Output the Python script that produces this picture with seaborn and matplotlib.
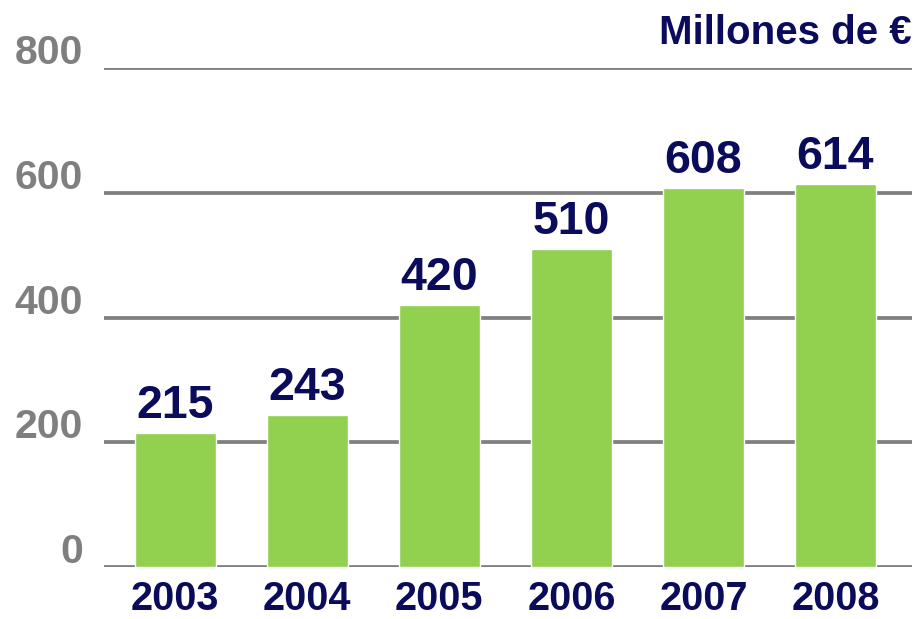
import matplotlib
matplotlib.use("Agg")
from matplotlib import pyplot as plt
from matplotlib.transforms import ScaledTranslation
import seaborn as sns
import pandas as pd

# data
years = ["2003", "2004", "2005", "2006", "2007", "2008"]
values = [215, 243, 420, 510, 608, 614]
y_ticks = [0, 200, 400, 600, 800]

green = "#92D050"
navy = "#0B0B5C"
grey = "#7F7F7F"

sns.set_theme(style="white")
plt.rcParams["font.family"] = ["Liberation Sans", "DejaVu Sans"]
plt.rcParams["font.weight"] = "bold"

df = pd.DataFrame({"year": years, "value": values})

fig = plt.figure(figsize=(9.18, 6.19), dpi=100)
ax = fig.add_axes([0.1133, 0.084, 0.8802, 0.806])

sns.barplot(data=df, x="year", y="value", color=green, width=0.61,
            saturation=1, ax=ax, zorder=3)

# value labels above bars
for i, v in enumerate(values):
  ax.annotate(str(v), (i, v), xytext=(0, 11), textcoords="offset points",
              ha="center", va="baseline", fontsize=33.5,
              fontweight="bold", color=navy)

ax.set_ylim(0, 800)
ax.set_xlim(-0.54, 5.58)
ax.set_yticks(y_ticks)
ax.set_yticklabels([str(t) for t in y_ticks], fontsize=29.5, fontweight="bold", color=grey)
ax.set_xticks(range(len(years)))
ax.set_xticklabels(years, fontsize=28.5, fontweight="bold", color=navy)
ax.tick_params(axis="y", length=0, pad=15)
ax.tick_params(axis="x", length=0, pad=9)
ax.set_xlabel("")
ax.set_ylabel("")

# y labels sit just above their gridline
shift = ScaledTranslation(0, 0.04, fig.dpi_scale_trans)
for lab in ax.get_yticklabels():
  lab.set_verticalalignment("baseline")
  lab.set_transform(lab.get_transform() + shift)

for t in y_ticks:
  ax.axhline(t, color=grey, lw=2.7, zorder=1)

for s in ax.spines.values():
  s.set_visible(False)

fig.text(0.9935, 0.978, "Millones de €", ha="right", va="top", fontsize=29,
         fontweight="bold", color=navy)

fig.savefig("out.png", dpi=100)
